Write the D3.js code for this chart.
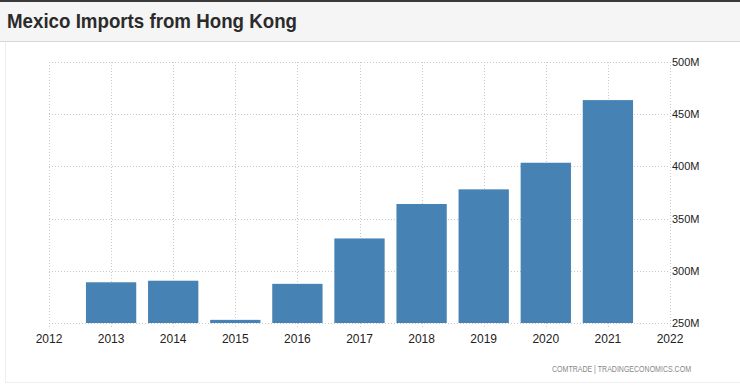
<!DOCTYPE html>
<html>
<head>
<meta charset="utf-8">
<script src="https://cdn.jsdelivr.net/npm/d3@7"></script>
<style>
  body { margin: 0; background: #fff; font-family: Arial, "Liberation Sans", sans-serif; }
</style>
</head>
<body>
<div id="chart"></div>
<script>
// Mexico imports from Hong Kong, USD
var years = [2013, 2014, 2015, 2016, 2017, 2018, 2019, 2020, 2021];
var values = [289, 290.5, 253, 287.5, 331, 364, 378, 403.5, 463.5]; // millions
var yTicks = [250, 300, 350, 400, 450, 500];
var xTicks = [2012, 2013, 2014, 2015, 2016, 2017, 2018, 2019, 2020, 2021, 2022];

var width = 740,
    height = 385,
    margin = { left: 49, right: 70, top: 62, bottom: 62 };

var svg = d3.select('#chart').append('svg')
    .attr('width', width)
    .attr('height', height);

// title bar
svg.append('rect')
    .attr('x', 0).attr('y', 0)
    .attr('width', width).attr('height', 41)
    .attr('fill', '#f5f5f5');
svg.append('rect')
    .attr('x', 0).attr('y', 0)
    .attr('width', width).attr('height', 2)
    .attr('fill', '#3a3a3a');
svg.append('line')
    .attr('x1', 0).attr('x2', width)
    .attr('y1', 41.5).attr('y2', 41.5)
    .attr('stroke', '#d6d6d6');
svg.append('text')
    .attr('x', 7).attr('y', 28)
    .attr('textLength', 290)
    .attr('lengthAdjust', 'spacingAndGlyphs')
    .text('Mexico Imports from Hong Kong')
    .style('font-size', '21px')
    .style('font-weight', 'bold')
    .attr('fill', '#2b2b2b');

// panel border
svg.append('line')
    .attr('x1', 5.5).attr('x2', 5.5)
    .attr('y1', 42).attr('y2', 382)
    .attr('stroke', '#eeeeee');
svg.append('line')
    .attr('x1', 5).attr('x2', width)
    .attr('y1', 382.5).attr('y2', 382.5)
    .attr('stroke', '#eeeeee');

var x = d3.scaleLinear()
    .domain([2012, 2022])
    .range([margin.left, width - margin.right]);

var y = d3.scaleLinear()
    .domain([250, 500])
    .range([height - margin.bottom, margin.top]);

var step = x(2013) - x(2012);
var barWidth = step * 0.81;

// grid
var grid = svg.append('g').attr('class', 'grid');
grid.selectAll('.hgrid')
    .data(yTicks)
    .enter().append('line')
    .attr('x1', margin.left).attr('x2', width - margin.right)
    .attr('y1', function (d) { return Math.round(y(d)) + 0.5; })
    .attr('y2', function (d) { return Math.round(y(d)) + 0.5; })
    .attr('stroke', '#c8c8c8')
    .attr('stroke-dasharray', '1,2');
grid.selectAll('.vgrid')
    .data(xTicks)
    .enter().append('line')
    .attr('x1', function (d) { return Math.round(x(d)) + 0.5; })
    .attr('x2', function (d) { return Math.round(x(d)) + 0.5; })
    .attr('y1', margin.top).attr('y2', height - margin.bottom + 4)
    .attr('stroke', '#c8c8c8')
    .attr('stroke-dasharray', '1,2');

// bars
svg.selectAll('.bar')
    .data(years)
    .enter().append('rect')
    .attr('class', 'bar')
    .attr('x', function (d) { return x(d) - barWidth / 2; })
    .attr('width', barWidth)
    .attr('y', function (d, i) { return y(values[i]); })
    .attr('height', function (d, i) { return y(250) - y(values[i]); })
    .attr('fill', '#4682b4');

// y axis labels
svg.selectAll('.ylab')
    .data(yTicks)
    .enter().append('text')
    .attr('x', width - margin.right + 2)
    .attr('y', function (d) { return y(d) + 4; })
    .text(function (d) { return d + 'M'; })
    .style('font-size', '11px')
    .attr('fill', '#222');

// x axis labels
svg.selectAll('.xlab')
    .data(xTicks)
    .enter().append('text')
    .attr('x', function (d) { return x(d); })
    .attr('y', 343)
    .attr('text-anchor', 'middle')
    .text(function (d) { return d; })
    .style('font-size', '12px')
    .attr('fill', '#222');

// source
svg.append('text')
    .attr('x', 691).attr('y', 372)
    .attr('text-anchor', 'end')
    .attr('textLength', 139)
    .attr('lengthAdjust', 'spacingAndGlyphs')
    .text('COMTRADE | TRADINGECONOMICS.COM')
    .style('font-size', '9px')
    .attr('fill', '#888');
</script>
</body>
</html>
